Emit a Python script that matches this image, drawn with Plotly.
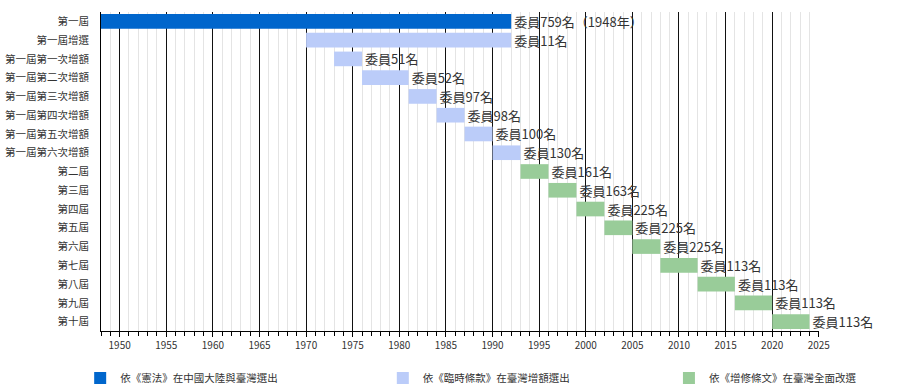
import plotly.graph_objects as go

categories = ["第一屆", "第一屆增選", "第一屆第一次增額", "第一屆第二次增額", "第一屆第三次增額",
              "第一屆第四次增額", "第一屆第五次增額", "第一屆第六次增額", "第二屆", "第三屆",
              "第四屆", "第五屆", "第六屆", "第七屆", "第八屆", "第九屆", "第十屆"]
start_years = [1948, 1970, 1973, 1976, 1981, 1984, 1987, 1990, 1993, 1996,
               1999, 2002, 2005, 2008, 2012, 2016, 2020]
end_years = [1992, 1992, 1976, 1981, 1984, 1987, 1990, 1993, 1996, 1999,
             2002, 2005, 2008, 2012, 2016, 2020, 2024]
labels = ["委員759名（1948年）", "委員11名", "委員51名", "委員52名", "委員97名",
          "委員98名", "委員100名", "委員130名", "委員161名", "委員163名",
          "委員225名", "委員225名", "委員225名", "委員113名", "委員113名", "委員113名", "委員113名"]
groups = [0, 1, 1, 1, 1, 1, 1, 1, 2, 2, 2, 2, 2, 2, 2, 2, 2]
group_names = ["依《憲法》在中國大陸與臺灣選出", "依《臨時條款》在臺灣增額選出", "依《增修條文》在臺灣全面改選"]
group_colors = ["#0066CC", "#BBCCF9", "#99CC99"]
tick_years = list(range(1950, 2026, 5))

FONT = "Noto Sans CJK TC, Noto Sans CJK SC, sans-serif"

fig = go.Figure()
legend_ids = ["legend", "legend2", "legend3"]
for g, (name, color) in enumerate(zip(group_names, group_colors)):
    idx = [i for i, gg in enumerate(groups) if gg == g]
    fig.add_trace(go.Bar(
        orientation="h",
        y=[categories[i] for i in idx],
        base=[start_years[i] for i in idx],
        x=[end_years[i] - start_years[i] for i in idx],
        text=[labels[i] for i in idx],
        textposition="outside",
        constraintext="none",
        textfont=dict(family=FONT, size=13, color="#333333"),
        cliponaxis=False,
        width=0.78,
        marker=dict(color=color, line=dict(width=0)),
        name=name,
        legend=legend_ids[g],
        hoverinfo="skip",
    ))

legend_common = dict(orientation="h", yanchor="middle", y=-0.147, xanchor="left",
                     font=dict(family=FONT, size=10.5, color="#333333"),
                     bgcolor="rgba(0,0,0,0)")

fig.update_layout(
    width=900, height=390,
    margin=dict(l=101, r=81, t=12, b=59, autoexpand=False),
    paper_bgcolor="white", plot_bgcolor="white",
    barmode="overlay",
    showlegend=True,
    legend=dict(x=-0.029, **legend_common),
    legend2=dict(x=0.3925, **legend_common),
    legend3=dict(x=0.791, **legend_common),
    font=dict(family=FONT, size=11, color="#333333"),
    xaxis=dict(
        range=[1948, 2025.02],
        tickvals=tick_years,
        ticktext=[str(y) for y in tick_years],
        showgrid=True, gridcolor="#111111", gridwidth=1,
        ticks="outside", ticklen=5, tickcolor="#000000", tickwidth=1,
        showline=True, linecolor="#000000", linewidth=1,
        tickfont=dict(family=FONT, size=10, color="#333333"),
        zeroline=False, automargin=False,
        minor=dict(dtick=1, tick0=1948, showgrid=True, gridcolor="#E4E4E4", gridwidth=1,
                   ticks="outside", ticklen=4, tickcolor="#000000"),
        fixedrange=True,
    ),
    yaxis=dict(
        categoryorder="array", categoryarray=categories,
        autorange="reversed",
        showgrid=False, showline=True, linecolor="#000000", linewidth=1,
        ticks="", tickfont=dict(family=FONT, size=10.5, color="#333333"),
        ticklabelstandoff=9,
        zeroline=False, automargin=False,
        fixedrange=True,
    ),
)

fig.write_html("out.html", config={"displayModeBar": False},
               post_script="document.body.style.margin='0';")
